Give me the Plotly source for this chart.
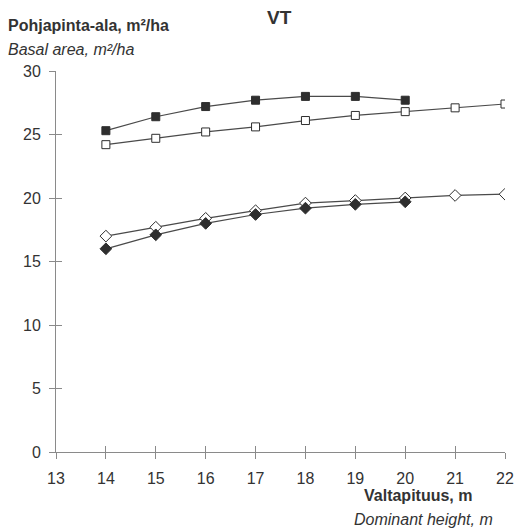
import plotly.graph_objects as go

# Dominant height classes (m)
heights = [14, 15, 16, 17, 18, 19, 20, 21, 22]

# Basal area series (m²/ha)
filled_square = [25.3, 26.4, 27.2, 27.7, 28.0, 28.0, 27.7]
open_square = [24.2, 24.7, 25.2, 25.6, 26.1, 26.5, 26.8, 27.1, 27.4]
open_diamond = [17.0, 17.7, 18.4, 19.0, 19.6, 19.8, 20.0, 20.2, 20.3]
filled_diamond = [16.0, 17.1, 18.0, 18.7, 19.2, 19.5, 19.7]

x_ticks = list(range(13, 23))
y_ticks = [0, 5, 10, 15, 20, 25, 30]

LINE = "#4a4a4a"
MARK = "#2e2e2e"
AXIS = "#8a8a8a"
TEXT = "#333333"
FONT = "Liberation Sans, Arial, sans-serif"

fig = go.Figure()


def add_series(y, symbol, fill, size):
    fig.add_trace(go.Scatter(
        x=heights[:len(y)], y=y, mode="lines+markers",
        line=dict(color=LINE, width=1.2),
        marker=dict(symbol=symbol, size=size, color=fill,
                    line=dict(color=MARK, width=1)),
        showlegend=False, hoverinfo="x+y",
    ))


add_series(filled_square, "square", MARK, 8)
add_series(open_square, "square", "white", 8)
add_series(open_diamond, "diamond", "white", 9)
add_series(filled_diamond, "diamond", MARK, 9)

# invisible trace carrying the inner-tick axes
fig.add_trace(go.Scatter(x=[13], y=[0], xaxis="x2", yaxis="y2",
                         mode="markers", marker=dict(opacity=0),
                         showlegend=False, hoverinfo="skip"))

common = dict(showgrid=False, zeroline=False, linecolor=AXIS, linewidth=1,
              tickcolor=AXIS, ticklen=6, tickwidth=1, automargin=False,
              tickfont=dict(family=FONT, size=16, color=TEXT))

fig.update_layout(
    width=515, height=528,
    margin=dict(l=56, r=10, t=71, b=76),
    paper_bgcolor="white", plot_bgcolor="white",
    font=dict(family=FONT, color=TEXT),
    xaxis=dict(range=[13, 22], tickvals=x_ticks, ticks="outside",
               showline=True, ticklabelstandoff=6, **common),
    yaxis=dict(range=[0, 30], tickvals=y_ticks, ticks="outside",
               showline=True, ticklabelstandoff=5, **common),
    xaxis2=dict(range=[13, 22], tickvals=x_ticks, ticks="inside",
                overlaying="x", anchor="y2", showticklabels=False,
                showline=False, **common),
    yaxis2=dict(range=[0, 30], tickvals=y_ticks, ticks="inside",
                overlaying="y", anchor="x2", showticklabels=False,
                showline=False, **common),
    annotations=[
        dict(text="<b>VT</b>", x=0.497, y=1.0, xref="paper", yref="paper",
             yshift=54, xanchor="center", yanchor="middle", showarrow=False,
             font=dict(family=FONT, size=19, color=TEXT)),
        dict(text="<b>Pohjapinta-ala, m²/ha</b>", x=-0.112, xref="paper",
             y=1.0, yref="paper", yshift=46, xanchor="left",
             yanchor="middle", showarrow=False,
             font=dict(family=FONT, size=16, color=TEXT)),
        dict(text="<i>Basal area, m²/ha</i>", x=-0.112, xref="paper", y=1.0,
             yref="paper", yshift=22, xanchor="left", yanchor="middle",
             showarrow=False, font=dict(family=FONT, size=16, color=TEXT)),
        dict(text="<b>Valtapituus, m</b>", x=0.806, xref="paper", y=0,
             yref="paper", yshift=-43, xanchor="center", yanchor="middle",
             showarrow=False, font=dict(family=FONT, size=16, color=TEXT)),
        dict(text="<i>Dominant height, m</i>", x=0.978, xref="paper", y=0,
             yref="paper", yshift=-67, xanchor="right", yanchor="middle",
             showarrow=False, font=dict(family=FONT, size=16, color=TEXT)),
    ],
)

fig.write_html("out.html")
